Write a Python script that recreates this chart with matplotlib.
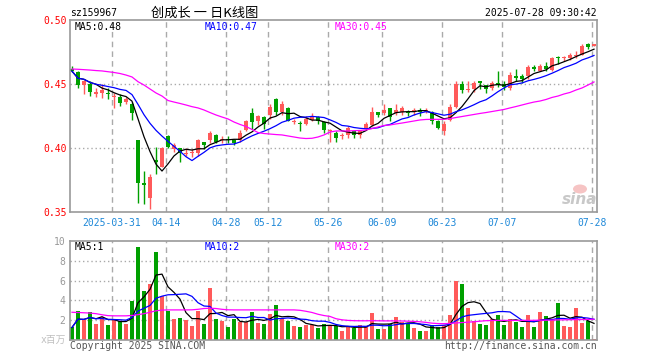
import matplotlib
matplotlib.use("Agg")
import matplotlib.pyplot as plt
from matplotlib.patches import Ellipse
import pandas as pd

plt.rcParams['font.family'] = ['DejaVu Sans Mono', 'Noto Sans CJK SC']
plt.rcParams['font.size'] = 7

code = "sz159967"
title = "创成长 一 日K线图"
stamp = "2025-07-28 09:30:42"

# daily K data, 2025-03-20 .. 2025-07-28 (88 trading days)
opens = [0.462, 0.459, 0.449, 0.450, 0.442, 0.443, 0.443, 0.440, 0.440, 0.436,
         0.434, 0.406, 0.373, 0.361, 0.391, 0.385, 0.409, 0.399, 0.400, 0.395,
         0.396, 0.396, 0.405, 0.406, 0.410, 0.406, 0.407, 0.406, 0.406, 0.414,
         0.427, 0.421, 0.424, 0.426, 0.438, 0.428, 0.431, 0.420, 0.4195, 0.419,
         0.422, 0.424, 0.420, 0.413, 0.412, 0.409, 0.410, 0.413, 0.410, 0.415,
         0.418, 0.428, 0.427, 0.431, 0.427, 0.428, 0.428, 0.428, 0.430, 0.428,
         0.428, 0.421, 0.413, 0.422, 0.432, 0.450, 0.445, 0.446, 0.452, 0.449,
         0.447, 0.451, 0.450, 0.447, 0.456, 0.456, 0.456, 0.463, 0.460, 0.464,
         0.461, 0.471, 0.470, 0.470, 0.472, 0.473, 0.481, 0.480]
closes = [0.460, 0.449, 0.452, 0.444, 0.444, 0.445, 0.442, 0.441, 0.435, 0.438,
          0.427, 0.373, 0.371, 0.377, 0.389, 0.400, 0.401, 0.402, 0.396, 0.396,
          0.397, 0.406, 0.402, 0.412, 0.405, 0.407, 0.406, 0.404, 0.412, 0.421,
          0.420, 0.425, 0.419, 0.432, 0.428, 0.434, 0.421, 0.421, 0.419, 0.423,
          0.425, 0.421, 0.414, 0.414, 0.408, 0.410, 0.416, 0.410, 0.413, 0.419,
          0.428, 0.426, 0.430, 0.424, 0.430, 0.431, 0.427, 0.430, 0.428, 0.430,
          0.421, 0.416, 0.419, 0.432, 0.450, 0.445, 0.446, 0.451, 0.451, 0.446,
          0.451, 0.449, 0.448, 0.457, 0.455, 0.454, 0.463, 0.462, 0.464, 0.462,
          0.470, 0.470, 0.471, 0.473, 0.473, 0.480, 0.479, 0.481]
highs = [0.464, 0.460, 0.453, 0.452, 0.447, 0.450, 0.447, 0.443, 0.442, 0.440,
         0.436, 0.406, 0.382, 0.380, 0.401, 0.401, 0.410, 0.404, 0.400, 0.400,
         0.399, 0.407, 0.405, 0.413, 0.411, 0.409, 0.409, 0.407, 0.414, 0.422,
         0.431, 0.426, 0.425, 0.434, 0.439, 0.437, 0.432, 0.423, 0.421, 0.425,
         0.427, 0.425, 0.421, 0.415, 0.413, 0.412, 0.417, 0.413, 0.414, 0.420,
         0.432, 0.428, 0.434, 0.431, 0.434, 0.433, 0.430, 0.431, 0.431, 0.431,
         0.429, 0.422, 0.421, 0.434, 0.452, 0.452, 0.452, 0.452, 0.452, 0.449,
         0.452, 0.460, 0.452, 0.459, 0.462, 0.458, 0.465, 0.465, 0.466, 0.467,
         0.471, 0.472, 0.472, 0.474, 0.476, 0.481, 0.482, 0.481]
lows = [0.459, 0.447, 0.442, 0.441, 0.440, 0.439, 0.438, 0.431, 0.433, 0.434,
        0.422, 0.357, 0.356, 0.352, 0.380, 0.385, 0.400, 0.397, 0.389, 0.394,
        0.393, 0.394, 0.399, 0.404, 0.404, 0.404, 0.404, 0.402, 0.405, 0.413,
        0.415, 0.418, 0.415, 0.423, 0.426, 0.426, 0.421, 0.419, 0.413, 0.418,
        0.421, 0.419, 0.412, 0.405, 0.405, 0.407, 0.408, 0.408, 0.408, 0.414,
        0.417, 0.424, 0.426, 0.421, 0.426, 0.426, 0.425, 0.426, 0.425, 0.427,
        0.419, 0.415, 0.410, 0.421, 0.431, 0.443, 0.444, 0.444, 0.446, 0.443,
        0.445, 0.448, 0.445, 0.445, 0.452, 0.451, 0.454, 0.460, 0.460, 0.460,
        0.460, 0.466, 0.468, 0.469, 0.470, 0.473, 0.477, 0.480]
# volume, millions
volumes = [1.27, 2.94, 2.04, 2.84, 1.64, 2.30, 1.54, 1.97, 1.87, 1.64,
           3.98, 9.36, 4.95, 5.65, 8.86, 4.45, 2.94, 2.14, 2.24, 2.04,
           1.44, 2.94, 1.64, 5.25, 2.14, 1.94, 1.34, 2.14, 1.84, 1.84,
           2.84, 1.74, 1.64, 2.64, 3.55, 2.14, 1.94, 1.44, 1.34, 1.54,
           1.54, 1.24, 1.64, 1.44, 1.44, 0.94, 1.37, 1.20, 1.54, 1.44,
           2.74, 1.14, 1.14, 1.64, 2.34, 1.84, 1.64, 1.24, 0.94, 0.94,
           1.54, 1.34, 1.50, 2.54, 5.95, 5.65, 3.24, 1.94, 1.64, 1.54,
           2.14, 2.54, 1.54, 2.14, 1.84, 1.34, 2.54, 1.34, 2.84, 2.44,
           2.04, 3.75, 1.44, 1.34, 3.24, 1.74, 1.94, 0.13]
# 30-day averages as drawn (they reach back before the window)
ma30_price = [0.4617, 0.4615, 0.4612, 0.4609, 0.4605, 0.4602, 0.4596, 0.4590, 0.4582, 0.4570,
              0.4555, 0.4518, 0.4492, 0.4461, 0.4430, 0.4406, 0.4371, 0.4359, 0.4348, 0.4336,
              0.4323, 0.4313, 0.4297, 0.4277, 0.4258, 0.4242, 0.4227, 0.4203, 0.4184, 0.4168,
              0.4145, 0.4121, 0.4113, 0.4109, 0.4105, 0.4102, 0.4094, 0.4086, 0.4078, 0.4074,
              0.4076, 0.4086, 0.4102, 0.4125, 0.4133, 0.4133, 0.4133, 0.4135, 0.4137, 0.4141,
              0.4152, 0.4164, 0.4176, 0.4180, 0.4188, 0.4195, 0.4203, 0.4211, 0.4219, 0.4223,
              0.4224, 0.4224, 0.4224, 0.4230, 0.4238, 0.4246, 0.4254, 0.4262, 0.4270, 0.4277,
              0.4285, 0.4293, 0.4301, 0.4313, 0.4324, 0.4336, 0.4348, 0.4359, 0.4367, 0.4379,
              0.4395, 0.4406, 0.4422, 0.4434, 0.4453, 0.4469, 0.4492, 0.4516]
ma30_vol = [2.80, 2.78, 2.75, 2.72, 2.66, 2.55, 2.46, 2.44, 2.44, 2.44,
            2.48, 2.56, 2.66, 2.80, 2.95, 3.02, 3.04, 3.04, 3.04, 3.04,
            3.05, 3.10, 3.18, 3.21, 3.18, 3.10, 3.05, 3.04, 3.04, 3.04,
            3.04, 3.04, 3.04, 3.04, 3.04, 3.04, 3.04, 3.04, 3.00, 2.90,
            2.78, 2.60, 2.47, 2.38, 2.15, 2.04, 1.98, 1.95, 1.94, 1.94,
            1.95, 1.94, 1.93, 1.93, 1.93, 1.92, 1.90, 1.88, 1.84, 1.78,
            1.70, 1.66, 1.65, 1.68, 1.72, 1.76, 1.80, 1.84, 1.90, 1.95,
            1.97, 1.98, 1.98, 1.98, 1.98, 1.98, 1.98, 1.99, 2.00, 2.00,
            2.01, 2.03, 2.04, 2.05, 2.06, 2.07, 2.08, 2.10]
tick_idx = [7, 16, 26, 33, 43, 52, 62, 72, 87]
tick_labels = ["2025-03-31", "04-14", "04-28", "05-12", "05-26",
               "06-09", "06-23", "07-07", "07-28"]

W, H = 660, 360
def fx(px):
    return px / W
def fy(py):
    return 1 - py / H

red, green = '#ff5a5a', '#00a000'
grid_c = '#aaaaaa'
n = len(closes)
idx = list(range(n))
colors = [red if c >= o else green for o, c in zip(opens, closes)]

ma5 = pd.Series(closes).rolling(5, min_periods=1).mean()
ma10 = pd.Series(closes).rolling(10, min_periods=1).mean()
vma5 = pd.Series(volumes).rolling(5, min_periods=1).mean()
vma10 = pd.Series(volumes).rolling(10, min_periods=1).mean()

fig = plt.figure(figsize=(6.6, 3.6), dpi=100)
ax = fig.add_axes([fx(70), fy(212), 527 / W, 192 / H])
axv = fig.add_axes([fx(70), fy(340), 527 / W, 99 / H])

grid_x = [t - 1 / 3 for t in tick_idx]
for a in (ax, axv):
    for gx in grid_x:
        a.axvline(gx, color=grid_c, lw=1, ls=(0, (4, 3)), zorder=0)
    a.set_xlim(-1 / 3, 87.5)
    for s in a.spines.values():
        s.set_color('#999999')
        s.set_linewidth(1.2)

# price panel
for gy in (0.40, 0.45):
    ax.axhline(gy, color=grid_c, lw=1, ls=(0, (1, 2)), zorder=0)
ax.vlines(idx, lows, highs, colors=colors, lw=1, zorder=2)
ax.bar(idx, [max(abs(c - o), 0.0005) for o, c in zip(opens, closes)],
       bottom=[min(o, c) for o, c in zip(opens, closes)],
       width=0.72, color=colors, zorder=2)
ax.plot(idx, ma5, color='black', lw=0.9, zorder=3)
ax.plot(idx, ma10, color='#0000ff', lw=0.9, zorder=3)
ax.plot(idx, ma30_price, color='#ff00ff', lw=0.9, zorder=3)
ax.set_ylim(0.35, 0.50)
ax.set_yticks([0.35, 0.40, 0.45, 0.50])
ax.set_yticklabels(["%.2f" % v for v in [0.35, 0.40, 0.45, 0.50]])
ax.tick_params(axis='y', length=0, pad=2.5, labelcolor='red', labelsize=7)
ax.set_xticks(grid_x)
ax.set_xticklabels(tick_labels)
ax.tick_params(axis='x', length=0, pad=4, labelcolor='#1e88d8', labelsize=7)

# volume panel
for gy in (2, 4, 6, 8):
    axv.axhline(gy, color=grid_c, lw=1, ls=(0, (1, 2)), zorder=0)
axv.bar(idx, volumes, width=0.8, color=colors, zorder=2)
axv.plot(idx, vma5, color='black', lw=0.9, zorder=3)
axv.plot(idx, vma10, color='#0000ff', lw=0.9, zorder=3)
axv.plot(idx, ma30_vol, color='#ff00ff', lw=0.9, zorder=3)
axv.set_ylim(0, 10)
axv.set_yticks([2, 4, 6, 8, 10])
axv.tick_params(axis='y', length=0, pad=3.5, labelcolor='#999999', labelsize=7)
axv.set_xticks([])

# header
fig.text(fx(70), fy(13), code, ha='left', va='center', color='black')
fig.text(fx(151), fy(13), title, ha='left', va='center', color='black',
         fontsize=9.5, family=['Noto Sans CJK SC', 'DejaVu Sans'])
fig.text(fx(597), fy(13), stamp, ha='right', va='center', color='black')

# MA legends
fig.text(fx(75), fy(27), "MA5:%.2f" % ma5.iloc[-1], va='center', color='black')
fig.text(fx(205), fy(27), "MA10:%.2f" % ma10.iloc[-1], va='center', color='#0000ff')
fig.text(fx(335), fy(27), "MA30:%.2f" % ma30_price[-1], va='center', color='#ff00ff')
fig.text(fx(75), fy(247), "MA5:%d" % int(vma5.iloc[-1]), va='center', color='black')
fig.text(fx(205), fy(247), "MA10:%d" % int(vma10.iloc[-1]), va='center', color='#0000ff')
fig.text(fx(335), fy(247), "MA30:%d" % int(ma30_vol[-1]), va='center', color='#ff00ff')

# watermark
fig.patches.append(Ellipse((fx(580), fy(189)), 14 / W, 9 / H, transform=fig.transFigure,
                           facecolor='#f6c4c4', edgecolor='none'))
fig.text(fx(597), fy(199), "sina", ha='right', va='center', color='#c8c8c8',
         fontsize=11, style='italic', weight='bold', family='DejaVu Sans')

# footer
fig.text(fx(66), fy(340), "x百万", ha='right', va='center', color='#c0c0c0',
         family=['DejaVu Sans Mono', 'Noto Sans CJK SC'])
fig.text(fx(70), fy(346), "Copyright 2025 SINA.COM", ha='left', va='center', color='#555555')
fig.text(fx(597), fy(346), "http://finance.sina.com.cn", ha='right', va='center', color='#555555')

fig.savefig("out.png", dpi=100, facecolor='white')
plt.close(fig)
